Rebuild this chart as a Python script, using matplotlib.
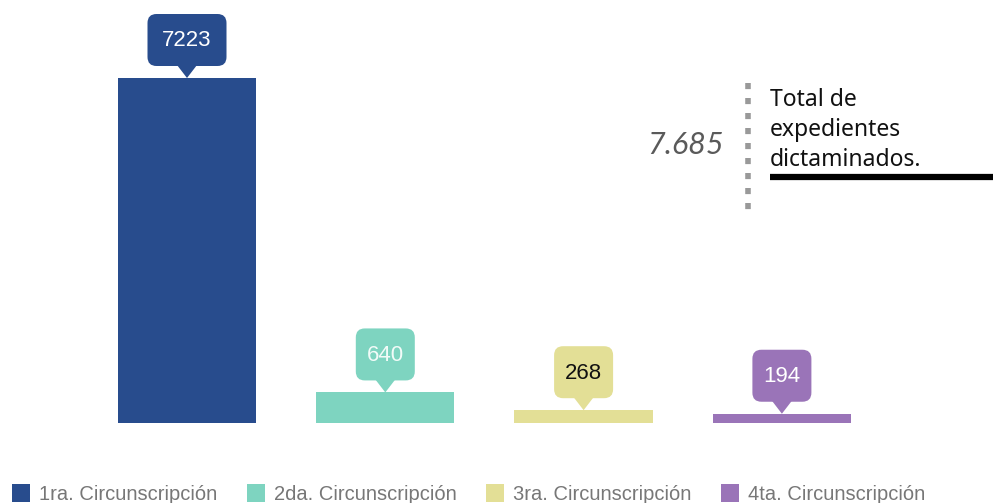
import matplotlib
matplotlib.use("Agg")
import matplotlib.pyplot as plt
from matplotlib.patches import FancyBboxPatch, Polygon, Patch
import matplotlib.transforms as mtransforms

# ---- data ----
categories = ["1ra. Circunscripción", "2da. Circunscripción",
              "3ra. Circunscripción", "4ta. Circunscripción"]
values = [7223, 640, 268, 194]
labels = ["7223", "640", "268", "194"]
total_label = "7.685"
total_text = "Total de\nexpedientes\ndictaminados."

colors = ["#284C8D", "#7ED4C0", "#E3DF96", "#9A74B8"]
label_colors = ["white", "#F2FBF8", "#111111", "white"]

W, H, DPI = 993, 503, 100
fig = plt.figure(figsize=(W / DPI, H / DPI), dpi=DPI)
fig.patch.set_facecolor("white")

# axes: bottom of bars at pixel row 423
bottom_px = 423
ax = fig.add_axes([0, (H - bottom_px) / H, 1, bottom_px / H])
spacing_px = 198.3
center0_px = 187
ax.set_xlim(-center0_px / spacing_px, (W - center0_px) / spacing_px)
ymax = values[0] * bottom_px / 345.0
ax.set_ylim(0, ymax)
ax.axis("off")

xs = list(range(len(values)))
ax.bar(xs, values, width=0.697, color=colors, zorder=2)

px = 1.0 / DPI  # one pixel in inches
for x, v, s, c, tc in zip(xs, values, labels, colors, label_colors):
    tr = fig.dpi_scale_trans + mtransforms.ScaledTranslation(x, v, ax.transData)
    bw = (20 * len(s) - 1) * px
    bh = 52 * px
    ph = 12 * px
    pw = 10 * px
    box = FancyBboxPatch((-bw / 2, ph), bw, bh,
                         boxstyle=f"round,pad=0,rounding_size={9 * px}",
                         transform=tr, facecolor=c, edgecolor="none", zorder=3)
    fig.add_artist(box)
    tri = Polygon([(-pw, ph + 1 * px), (pw, ph + 1 * px), (0, 0)], closed=True,
                  transform=tr, facecolor=c, edgecolor="none", zorder=3)
    fig.add_artist(tri)
    fig.text(0, ph + bh / 2 - 1 * px, s, transform=tr, ha="center", va="center",
             fontsize=16, color=tc, family="Liberation Sans", zorder=4)

# total annotation
fig.text(724 / W, 1 - 145 / H, total_label, ha="right", va="center",
         fontsize=22, style="italic", color="#5a5a5a", family="Lato")
fig.add_artist(plt.Line2D([748 / W, 748 / W], [1 - 83 / H, 1 - 218 / H],
                          transform=fig.transFigure, color="#999999",
                          linewidth=4, linestyle=(0, (1.1, 1.6))))
fig.text(770 / W, 1 - 88 / H, total_text, ha="left", va="top",
         fontsize=16.5, color="#111111", family="Noto Sans",
         linespacing=1.32)
fig.add_artist(plt.Line2D([770 / W, 1.0], [1 - 177 / H, 1 - 177 / H],
                          transform=fig.transFigure, color="black",
                          linewidth=4.5, solid_capstyle="butt"))

# legend
handles = [Patch(facecolor=c, edgecolor="none") for c in colors]
leg = fig.legend(handles, categories, loc="lower left",
                 bbox_to_anchor=(-0.002, -0.03), ncol=4, frameon=False,
                 handlelength=0.9, handleheight=1.0,
                 handletextpad=0.45, columnspacing=1.45, borderaxespad=0.3,
                 prop={"family": "Liberation Sans", "size": 14.5})
for t in leg.get_texts():
    t.set_color("#777777")

fig.savefig("out.png", dpi=DPI, facecolor="white")
